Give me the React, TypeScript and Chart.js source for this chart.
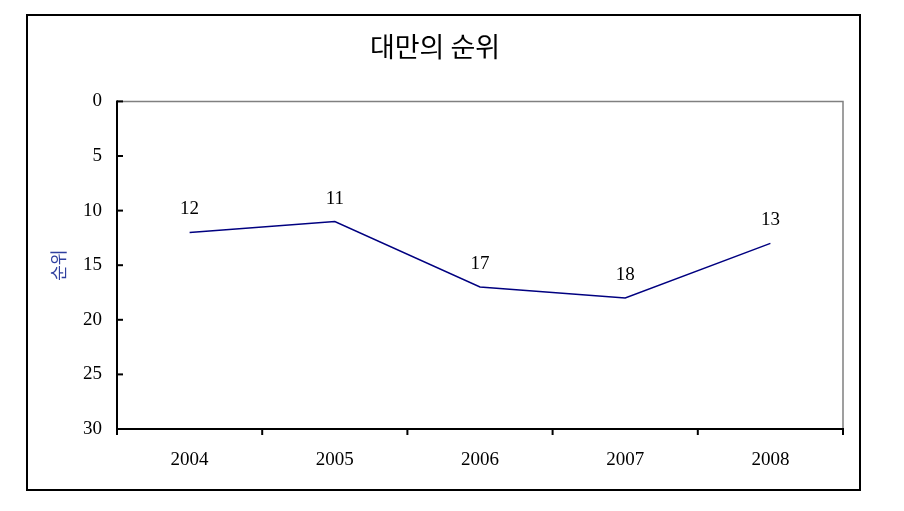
import React, { useEffect, useRef } from "react";
import { Chart, registerables } from "chart.js";

Chart.register(...registerables);

const years = ["2004", "2005", "2006", "2007", "2008"];
const ranks = [12, 11, 17, 18, 13];
const yTicks = [0, 5, 10, 15, 20, 25, 30];
const titleText = "대만의 순위";
const yTitleText = "순위";

const SERIF = "'Liberation Serif', 'Times New Roman', serif";

const decor = {
  id: "decor",
  afterDraw(chart: any) {
    const ctx = chart.ctx;
    const { left, right, top, bottom } = chart.chartArea;
    ctx.save();
    ctx.strokeStyle = "#808080";
    ctx.lineWidth = 1.5;
    ctx.beginPath();
    ctx.moveTo(left, top);
    ctx.lineTo(right, top);
    ctx.lineTo(right, bottom);
    ctx.stroke();
    ctx.strokeStyle = "#000";
    ctx.lineWidth = 2;
    ctx.beginPath();
    ctx.moveTo(left, top - 1);
    ctx.lineTo(left, bottom);
    ctx.lineTo(right + 1, bottom);
    ctx.stroke();
    const ys = chart.scales.y;
    yTicks.forEach((v) => {
      const y = ys.getPixelForValue(v);
      ctx.beginPath();
      ctx.moveTo(left, y);
      ctx.lineTo(left + 6, y);
      ctx.stroke();
    });
    const n = years.length;
    for (let i = 0; i <= n; i++) {
      const x = left + ((right - left) * i) / n;
      ctx.beginPath();
      ctx.moveTo(x, bottom);
      ctx.lineTo(x, bottom + 6);
      ctx.stroke();
    }
    ctx.strokeRect(27, 15, 833, 475);
    const meta = chart.getDatasetMeta(0);
    ctx.fillStyle = "#000";
    ctx.font = "19px " + SERIF;
    ctx.textAlign = "center";
    ctx.textBaseline = "middle";
    meta.data.forEach((pt: any, i: number) => {
      ctx.fillText(String(ranks[i]), pt.x, pt.y - 23);
    });
    ctx.restore();
  },
};

export default function App() {
  const ref = useRef<HTMLCanvasElement>(null);
  useEffect(() => {
    if (!ref.current) return;
    const chart = new Chart(ref.current, {
      type: "line",
      data: {
        labels: years,
        datasets: [
          {
            data: ranks,
            borderColor: "#000080",
            borderWidth: 1.5,
            pointRadius: 0,
            tension: 0,
            fill: false,
          },
        ],
      },
      options: {
        responsive: false,
        animation: false,
        layout: { padding: { left: 27, top: 15, right: 61, bottom: 21 } },
        plugins: {
          legend: { display: false },
          tooltip: { enabled: false },
          title: {
            display: true,
            text: titleText,
            color: "#000",
            font: { family: "'Noto Sans CJK KR', sans-serif", size: 27, weight: "normal" },
            padding: { top: 16, bottom: 38 },
          },
        },
        scales: {
          x: {
            type: "category",
            offset: true,
            grid: { display: false, drawTicks: false },
            border: { display: false },
            ticks: { color: "#000", font: { family: SERIF, size: 19 }, padding: 20, maxRotation: 0 },
            afterFit(scale: any) {
              scale.height = 61;
            },
          },
          y: {
            reverse: true,
            min: 0,
            max: 30,
            grid: { display: false, drawTicks: false },
            border: { display: false },
            ticks: { stepSize: 5, color: "#000", font: { family: SERIF, size: 19 }, padding: 15 },
            title: {
              display: true,
              text: yTitleText,
              color: "#2f3f9f",
              font: { family: "'Noto Sans CJK KR', sans-serif", size: 17 },
              padding: { top: 21, bottom: 0 },
            },
            afterFit(scale: any) {
              scale.width = 90;
            },
          },
        },
      },
      plugins: [decor],
    });
    return () => chart.destroy();
  }, []);
  return (
    <div style={{ position: "fixed", left: 0, top: 0, width: 904, height: 511, background: "#fff" }}>
      <canvas ref={ref} width={904} height={511} />
    </div>
  );
}
